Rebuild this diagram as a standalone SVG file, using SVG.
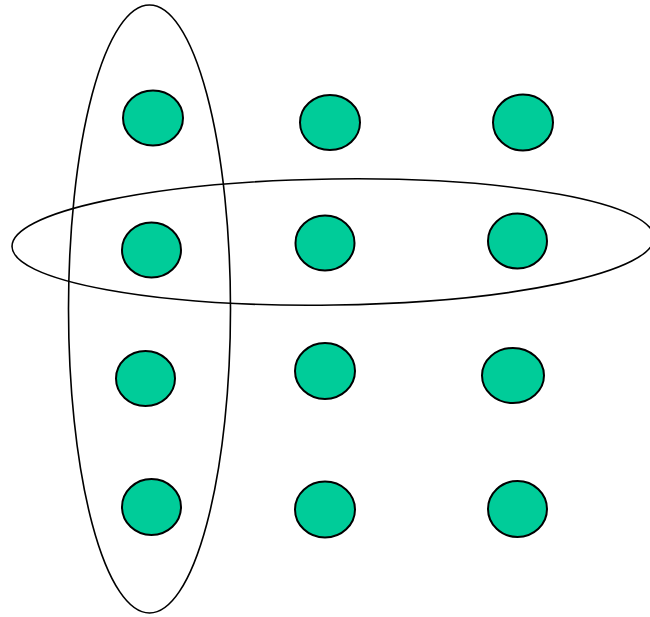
<svg xmlns="http://www.w3.org/2000/svg" width="650" height="617" viewBox="0 0 650 617">
<style>
.dot{fill:#00CC99;stroke:#000;stroke-width:2}
.ring{fill:none;stroke:#000;stroke-width:1.6}
</style>
<rect width="650" height="617" fill="#fff"/>
<g id="groups">
<ellipse id="column" class="ring" cx="149.5" cy="309" rx="81" ry="304"/>
<ellipse id="row" class="ring" cx="333" cy="242" rx="321" ry="63" transform="rotate(-0.8 333 242)"/>
</g>
<g id="n11"><ellipse class="dot" cx="153" cy="118" rx="30" ry="27.5"/></g>
<g id="n12"><ellipse class="dot" cx="330" cy="122.5" rx="30" ry="27.5"/></g>
<g id="n13"><ellipse class="dot" cx="523" cy="122.5" rx="30" ry="28"/></g>
<g id="n21"><ellipse class="dot" cx="151.5" cy="250" rx="29.5" ry="27.5"/></g>
<g id="n22"><ellipse class="dot" cx="325" cy="243" rx="29.5" ry="27.5"/></g>
<g id="n23"><ellipse class="dot" cx="517.5" cy="241" rx="29.5" ry="27.5"/></g>
<g id="n31"><ellipse class="dot" cx="145.5" cy="378.5" rx="29.5" ry="27.5"/></g>
<g id="n32"><ellipse class="dot" cx="325" cy="371" rx="30" ry="28"/></g>
<g id="n33"><ellipse class="dot" cx="513" cy="375.5" rx="31" ry="27.5"/></g>
<g id="n41"><ellipse class="dot" cx="151.5" cy="507" rx="29.5" ry="28"/></g>
<g id="n42"><ellipse class="dot" cx="325" cy="509.5" rx="30" ry="28"/></g>
<g id="n43"><ellipse class="dot" cx="517.5" cy="509" rx="29.5" ry="28"/></g>
</svg>
